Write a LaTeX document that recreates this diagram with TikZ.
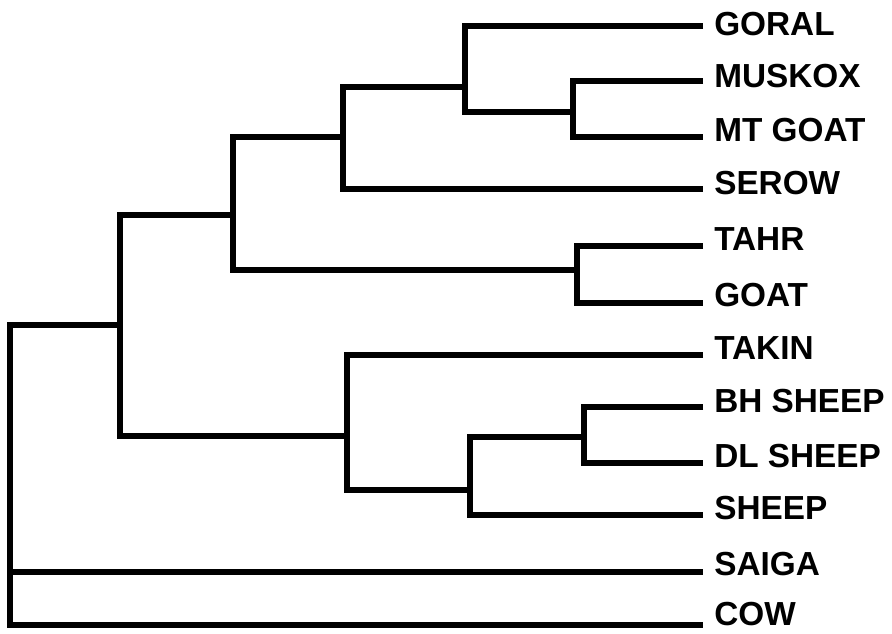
\documentclass[tikz,border=0pt]{standalone}
\usepackage{fontspec}
\setmainfont{Liberation Sans}
\begin{document}
\begin{tikzpicture}[x=0.75pt,y=-0.75pt,
  branch/.style={line width=4.8pt,line join=miter,line cap=butt},
  taxon/.style={anchor=west,inner sep=0pt,font=\bfseries\fontsize{25}{30}\selectfont}]
\useasboundingbox (0,0) rectangle (892,633);
% leaf ends
\foreach \n/\y in {goral/26,muskox/81,mtgoat/137,serow/189,tahr/246,goat/303,takin/355,bh/407,dl/463,sheep/515,saiga/572,cow/625}
  \coordinate (\n) at (703,\y);
% labels
\node[taxon] (lgoral) at (714,24) {GORAL};
\node[taxon] (lmuskox) at (714,76) {MUSKOX};
\node[taxon] (lmtgoat) at (714,130) {MT GOAT};
\node[taxon] (lserow) at (714,183) {SEROW};
\node[taxon] (ltahr) at (714,239) {TAHR};
\node[taxon] (lgoat) at (714,295) {GOAT};
\node[taxon] (ltakin) at (714,348) {TAKIN};
\node[taxon] (lbh) at (714,401) {BH SHEEP};
\node[taxon] (ldl) at (714,456) {DL SHEEP};
\node[taxon] (lsheep) at (714,508) {SHEEP};
\node[taxon] (lsaiga) at (714,564) {SAIGA};
\node[taxon] (lcow) at (714,614) {COW};
% internal nodes
\coordinate (m1) at (573,112);
\coordinate (m2) at (465,87);
\coordinate (m3) at (343,137);
\coordinate (t1) at (577,270);
\coordinate (m4) at (233,215);
\coordinate (s1) at (584,437);
\coordinate (s2) at (470,490);
\coordinate (s3) at (347,436);
\coordinate (a) at (120,325);
\coordinate (root) at (10,325);
% branches
\draw[branch] (muskox) -| (m1) |- (mtgoat);
\draw[branch] (goral) -| (m2) |- (m1);
\draw[branch] (m2) -| (m3) |- (serow);
\draw[branch] (tahr) -| (t1) |- (goat);
\draw[branch] (m3) -| (m4) |- (t1);
\draw[branch] (bh) -| (s1) |- (dl);
\draw[branch] (s1) -| (s2) |- (sheep);
\draw[branch] (takin) -| (s3) |- (s2);
\draw[branch] (m4) -| (a) |- (s3);
\draw[branch] (a) -- (root) |- (cow);
\draw[branch] (root |- saiga) -- (saiga);
\end{tikzpicture}
\end{document}
